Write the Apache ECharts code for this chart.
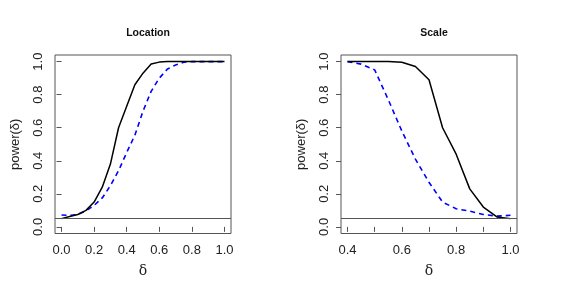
<!DOCTYPE html>
<html><head><meta charset="utf-8">
<script src="https://cdn.jsdelivr.net/npm/echarts@6/dist/echarts.min.js"></script>
<style>html,body{margin:0;padding:0;background:#fff}#c{width:572px;height:289px}</style>
</head><body><div id="c"></div>
<script>
// ---- data ----
const deltaLocation = [0, 0.05, 0.1, 0.15, 0.2, 0.25, 0.3, 0.35, 0.4, 0.45, 0.5, 0.55, 0.6, 0.65, 0.7, 0.75, 0.8, 0.85, 0.9, 0.95, 1.0];
const locationSolid = [0.05, 0.063, 0.075, 0.1, 0.15, 0.24, 0.38, 0.6, 0.73, 0.86, 0.93, 0.985, 0.997, 1, 1, 1, 1, 1, 1, 1, 1];
const locationDashed = [0.072, 0.07, 0.075, 0.097, 0.13, 0.175, 0.25, 0.34, 0.45, 0.555, 0.70, 0.82, 0.90, 0.955, 0.98, 0.996, 1, 1, 1, 1, 1];
const deltaScale = [0.4, 0.45, 0.5, 0.55, 0.6, 0.65, 0.7, 0.75, 0.8, 0.85, 0.9, 0.95, 1.0];
const scaleSolid = [1, 1, 1, 1, 0.996, 0.97, 0.89, 0.6, 0.44, 0.23, 0.12, 0.06, 0.05];
const scaleDashed = [1, 0.985, 0.95, 0.77, 0.58, 0.41, 0.27, 0.15, 0.11, 0.095, 0.075, 0.065, 0.07];
const nominalLevel = 0.05;
const yTicks = [0, 0.2, 0.4, 0.6, 0.8, 1.0];
const xTicksLocation = [0, 0.2, 0.4, 0.6, 0.8, 1.0];
const xTicksScale = [0.4, 0.5, 0.6, 0.7, 0.8, 0.9, 1.0];
const xLabelsScale = [0.4, 0.6, 0.8, 1.0];
const titles = ['Location', 'Scale'];
const yName = 'power(δ)';
const xName = 'δ';

const pairs = (xs, ys) => xs.map((x, i) => [x, ys[i]]);
const axisCol = '#555';
const txtCol = '#222';

function xAx(gi, min, max, ticks, labels) {
  return {
    type: 'value', gridIndex: gi, min: min, max: max,
    axisLine: { show: false }, splitLine: { show: false },
    axisTick: { show: true, inside: false, length: 5, customValues: ticks, lineStyle: { color: axisCol } },
    axisLabel: { customValues: labels, margin: 10, fontSize: 13, color: txtCol, fontFamily: 'Liberation Sans', formatter: v => v.toFixed(1) },
    name: xName, nameLocation: 'middle', nameGap: 31,
    nameTextStyle: { fontFamily: 'DejaVu Serif', fontSize: 14, color: txtCol }
  };
}
function yAx(gi) {
  return {
    type: 'value', gridIndex: gi, min: -0.04, max: 1.04,
    axisLine: { show: false }, splitLine: { show: false },
    axisTick: { show: true, inside: false, length: 5, customValues: yTicks, lineStyle: { color: axisCol } },
    axisLabel: { customValues: yTicks, rotate: 90, margin: 10, fontSize: 13, color: txtCol, fontFamily: 'Liberation Sans', formatter: v => v.toFixed(1) },
    name: yName, nameLocation: 'middle', nameGap: 33, nameRotate: 90,
    nameTextStyle: { fontFamily: 'Liberation Sans', fontSize: 13, color: txtCol }
  };
}
function solid(xi, data) {
  return {
    type: 'line', xAxisIndex: xi, yAxisIndex: xi, data: data, symbol: 'none',
    lineStyle: { color: '#000', width: 1.5 }, z: 3,
    markLine: { silent: true, symbol: ['none', 'none'], label: { show: false },
      lineStyle: { color: axisCol, type: 'solid', width: 1 }, data: [{ yAxis: nominalLevel }] }
  };
}
function dashed(xi, data) {
  return {
    type: 'line', xAxisIndex: xi, yAxisIndex: xi, data: data, symbol: 'none',
    lineStyle: { color: '#0000ff', width: 1.6, type: [5, 4] }, z: 2
  };
}

const chart = echarts.init(document.getElementById('c'), null, { renderer: 'canvas' });
chart.setOption({
  animation: false,
  backgroundColor: '#fff',
  title: [
    { text: titles[0], left: 143, top: 23, textAlign: 'center', textStyle: { fontSize: 10.5, fontWeight: 'bold', color: '#111', fontFamily: 'Liberation Sans' } },
    { text: titles[1], left: 429, top: 23, textAlign: 'center', textStyle: { fontSize: 10.5, fontWeight: 'bold', color: '#111', fontFamily: 'Liberation Sans' } }
  ],
  grid: [
    { left: 55, right: 341, top: 55, bottom: 55.5, show: true, borderColor: axisCol, borderWidth: 1, backgroundColor: 'transparent' },
    { left: 341, right: 55, top: 55, bottom: 55.5, show: true, borderColor: axisCol, borderWidth: 1, backgroundColor: 'transparent' }
  ],
  xAxis: [
    xAx(0, -0.04, 1.04, xTicksLocation, xTicksLocation),
    xAx(1, 0.376, 1.024, xTicksScale, xLabelsScale)
  ],
  yAxis: [yAx(0), yAx(1)],
  series: [
    dashed(0, pairs(deltaLocation, locationDashed)),
    solid(0, pairs(deltaLocation, locationSolid)),
    dashed(1, pairs(deltaScale, scaleDashed)),
    solid(1, pairs(deltaScale, scaleSolid))
  ]
});
</script>
</body></html>
